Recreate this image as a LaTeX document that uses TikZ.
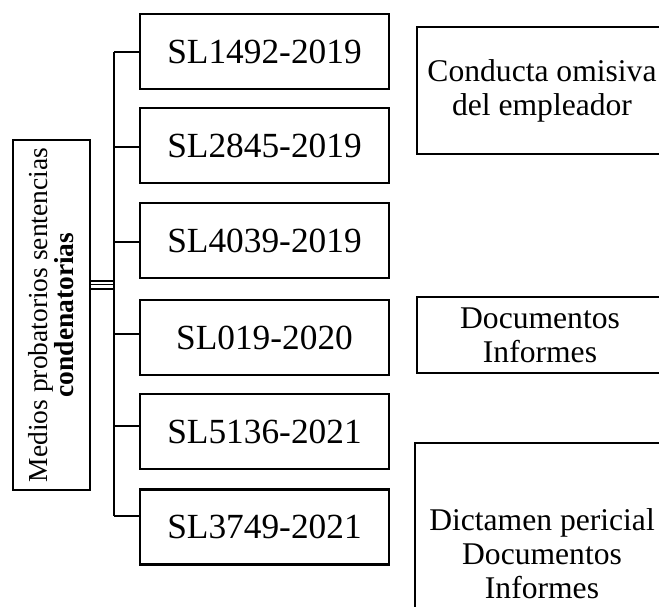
\documentclass[tikz,border=0pt]{standalone}
\usepackage{fontspec}
\setmainfont{Liberation Serif}
\usetikzlibrary{positioning}

\begin{document}
\begin{tikzpicture}[x=0.75pt,y=-0.75pt,
    borde/.style={draw,line width=1.9pt},
    caja/.style={borde,minimum width=186.75pt,minimum height=56.25pt,inner sep=0pt,font=\fontsize{26.5}{30}\selectfont},
    nota/.style={borde,align=center,inner sep=0pt,font=\fontsize{23.7}{25.5}\selectfont},
    rama/.style={line width=1.5pt}]
  \clip (0,0) rectangle (659,606);

  % caja izquierda, texto girado
  \node[borde,rotate=90,minimum width=262.5pt,minimum height=57.75pt,
        align=center,inner sep=0pt,font=\fontsize{20.6}{19.5}\selectfont]
        (medios) at (51.5,315) {Medios probatorios sentencias\\\textbf{condenatorias}};

  % sentencias
  \foreach \nom/\y/\r [count=\i] in {SL1492-2019/51.5/52,SL2845-2019/145.5/147,SL4039-2019/240.5/242,
                                     SL019-2020/337.5/334,SL5136-2021/431.5/426,SL3749-2021/527/516} {
    \node[caja] (sl\i) at (264.5,\y) {\nom};
    \coordinate (b\i) at (114,\r);
  }
  \draw[rama] (b1) -- (b6);
  \foreach \i in {1,...,6}
    \draw[rama] (b\i) -- (b\i -| sl\i.west);

  % triple linea
  \foreach \d/\w [count=\j] in {-34/0.8pt,-30.5/0.8pt,-26/2.2pt} {
    \path (medios.south) ++(0,\d) coordinate (t\j);
    \draw[line width=\w] (t\j) -- (t\j -| b1);
  }

  % notas a la derecha
  \node[nota,minimum width=187.5pt,minimum height=95.25pt] (conducta) at (542,90.5) {Conducta omisiva\\del empleador};
  \node[nota,minimum width=184.5pt,minimum height=57pt] (docs) at (540,335) {Documentos\\Informes};
  \node[nota,minimum width=190.5pt,minimum height=166.5pt] (dictamen) at (542,554) {Dictamen pericial\\Documentos\\Informes};
\end{tikzpicture}
\end{document}
